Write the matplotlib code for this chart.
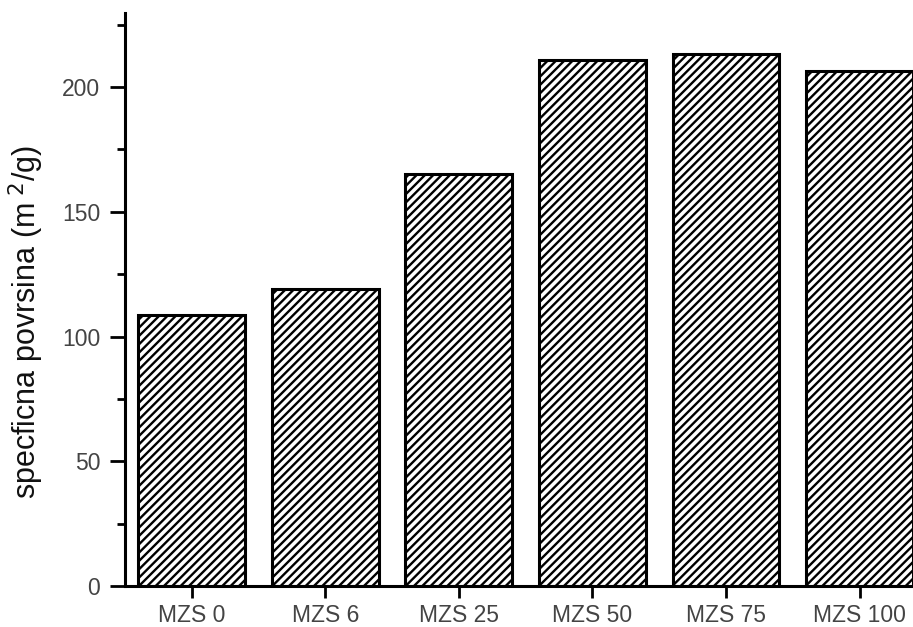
import matplotlib
matplotlib.use("Agg")
import matplotlib.pyplot as plt
from matplotlib.ticker import MultipleLocator

categories = ["MZS 0", "MZS 6", "MZS 25", "MZS 50", "MZS 75", "MZS 100"]
values = [108.8, 119.1, 165.2, 210.9, 213.3, 206.5]

plt.rcParams['font.family'] = ['Liberation Sans', 'DejaVu Sans']
plt.rcParams['hatch.linewidth'] = 1.7
plt.rcParams['hatch.color'] = 'black'

fig = plt.figure(figsize=(9.13, 6.27), dpi=100)
ax = fig.add_axes([125/913, 1-586/627, 1-125/913, (586-13)/627])

x = list(range(len(categories)))
ax.bar(x, values, width=0.8, facecolor='white', edgecolor='black',
       linewidth=2.2, hatch='////')

ax.set_xlim(-0.5, 5.4)
ax.set_ylim(0, 229.7)
ax.set_xticks(x)
ax.set_xticklabels(categories, fontsize=16.5, color='#444444')
ax.yaxis.set_major_locator(MultipleLocator(50))
ax.yaxis.set_minor_locator(MultipleLocator(25))
ax.tick_params(axis='y', which='major', length=10.8, width=2, pad=7, labelsize=16.5, labelcolor='#444444')
ax.tick_params(axis='y', which='minor', length=5.8, width=2)
ax.tick_params(axis='x', which='major', length=8.6, width=2, pad=4)
for s in ['top', 'right']:
    ax.spines[s].set_visible(False)
for s in ['left', 'bottom']:
    ax.spines[s].set_linewidth(2.2)

ax.set_ylabel("specficna povrsina (m$^{\\ 2}$/g)", fontsize=22, color='#111111')
ax.yaxis.set_label_coords(-0.1, 0.46)

fig.savefig("out.png", dpi=100)
